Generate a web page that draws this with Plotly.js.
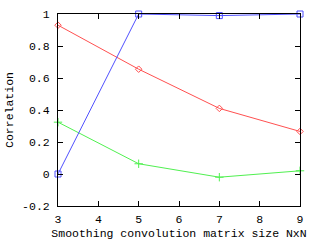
<!DOCTYPE html>
<html><head><meta charset="utf-8">
<script src="https://cdn.plot.ly/plotly-3.0.1.min.js"></script>
<style>html,body{margin:0;padding:0;background:#fff}#c{width:320px;height:240px}</style>
</head><body><div id="c"></div>
<script>
const xCats = [3, 5, 7, 9];
const redVals = [0.93, 0.655, 0.41, 0.266];
const greenVals = [0.324, 0.064, -0.02, 0.02];
const blueVals = [0, 1, 0.99, 1];
const xTickVals = [3, 4, 5, 6, 7, 8, 9];
const xTickText = ['3', '4', '5', '6', '7', '8', '9'];
const yTickVals = [-0.2, 0, 0.2, 0.4, 0.6, 0.8, 1];
const yTickText = ['-0.2', '0', '0.2', '0.4', '0.6', '0.8', '1'];

const font = {family: 'Liberation Mono, DejaVu Sans Mono, monospace', size: 11.5, color: '#000'};
const traces = [
  {x: xCats, y: redVals, mode: 'lines+markers', cliponaxis: false, line: {color: 'rgb(255,80,80)', width: 1},
   marker: {symbol: 'diamond-open', size: 5, color: 'rgb(255,80,80)', line: {width: 1}}},
  {x: xCats, y: greenVals, mode: 'lines+markers', cliponaxis: false, line: {color: 'rgb(80,240,80)', width: 1},
   marker: {symbol: 'cross-thin-open', size: 6, color: 'rgb(80,240,80)', line: {width: 1, color: 'rgb(80,240,80)'}}},
  {x: xCats, y: blueVals, mode: 'lines+markers', cliponaxis: false, line: {color: 'rgb(80,80,255)', width: 1},
   marker: {symbol: 'square-open', size: 6, color: 'rgb(80,80,255)', line: {width: 1}}}
];
const layout = {
  width: 320, height: 240,
  margin: {l: 58, r: 20, t: 14, b: 34},
  paper_bgcolor: '#fff', plot_bgcolor: '#fff',
  showlegend: false,
  font: font,
  xaxis: {range: [3, 9], tickvals: xTickVals, ticktext: xTickText, ticks: 'inside', ticklen: 5,
          tickcolor: '#000', showline: true, linecolor: '#000', linewidth: 1, mirror: 'ticks',
          showgrid: false, zeroline: false, tickfont: font, ticklabelstandoff: 2,
          title: {text: 'Smoothing convolution matrix size NxN', font: font, standoff: 4}},
  yaxis: {range: [-0.2, 1], tickvals: yTickVals, ticktext: yTickText, ticks: 'inside', ticklen: 5,
          tickcolor: '#000', showline: true, linecolor: '#000', linewidth: 1, mirror: 'ticks',
          showgrid: false, zeroline: false, tickfont: font, ticklabelstandoff: 5,
          title: {text: 'Correlation', font: font, standoff: 6}}
};
Plotly.newPlot('c', traces, layout, {displayModeBar: false, staticPlot: true});
</script></body></html>
